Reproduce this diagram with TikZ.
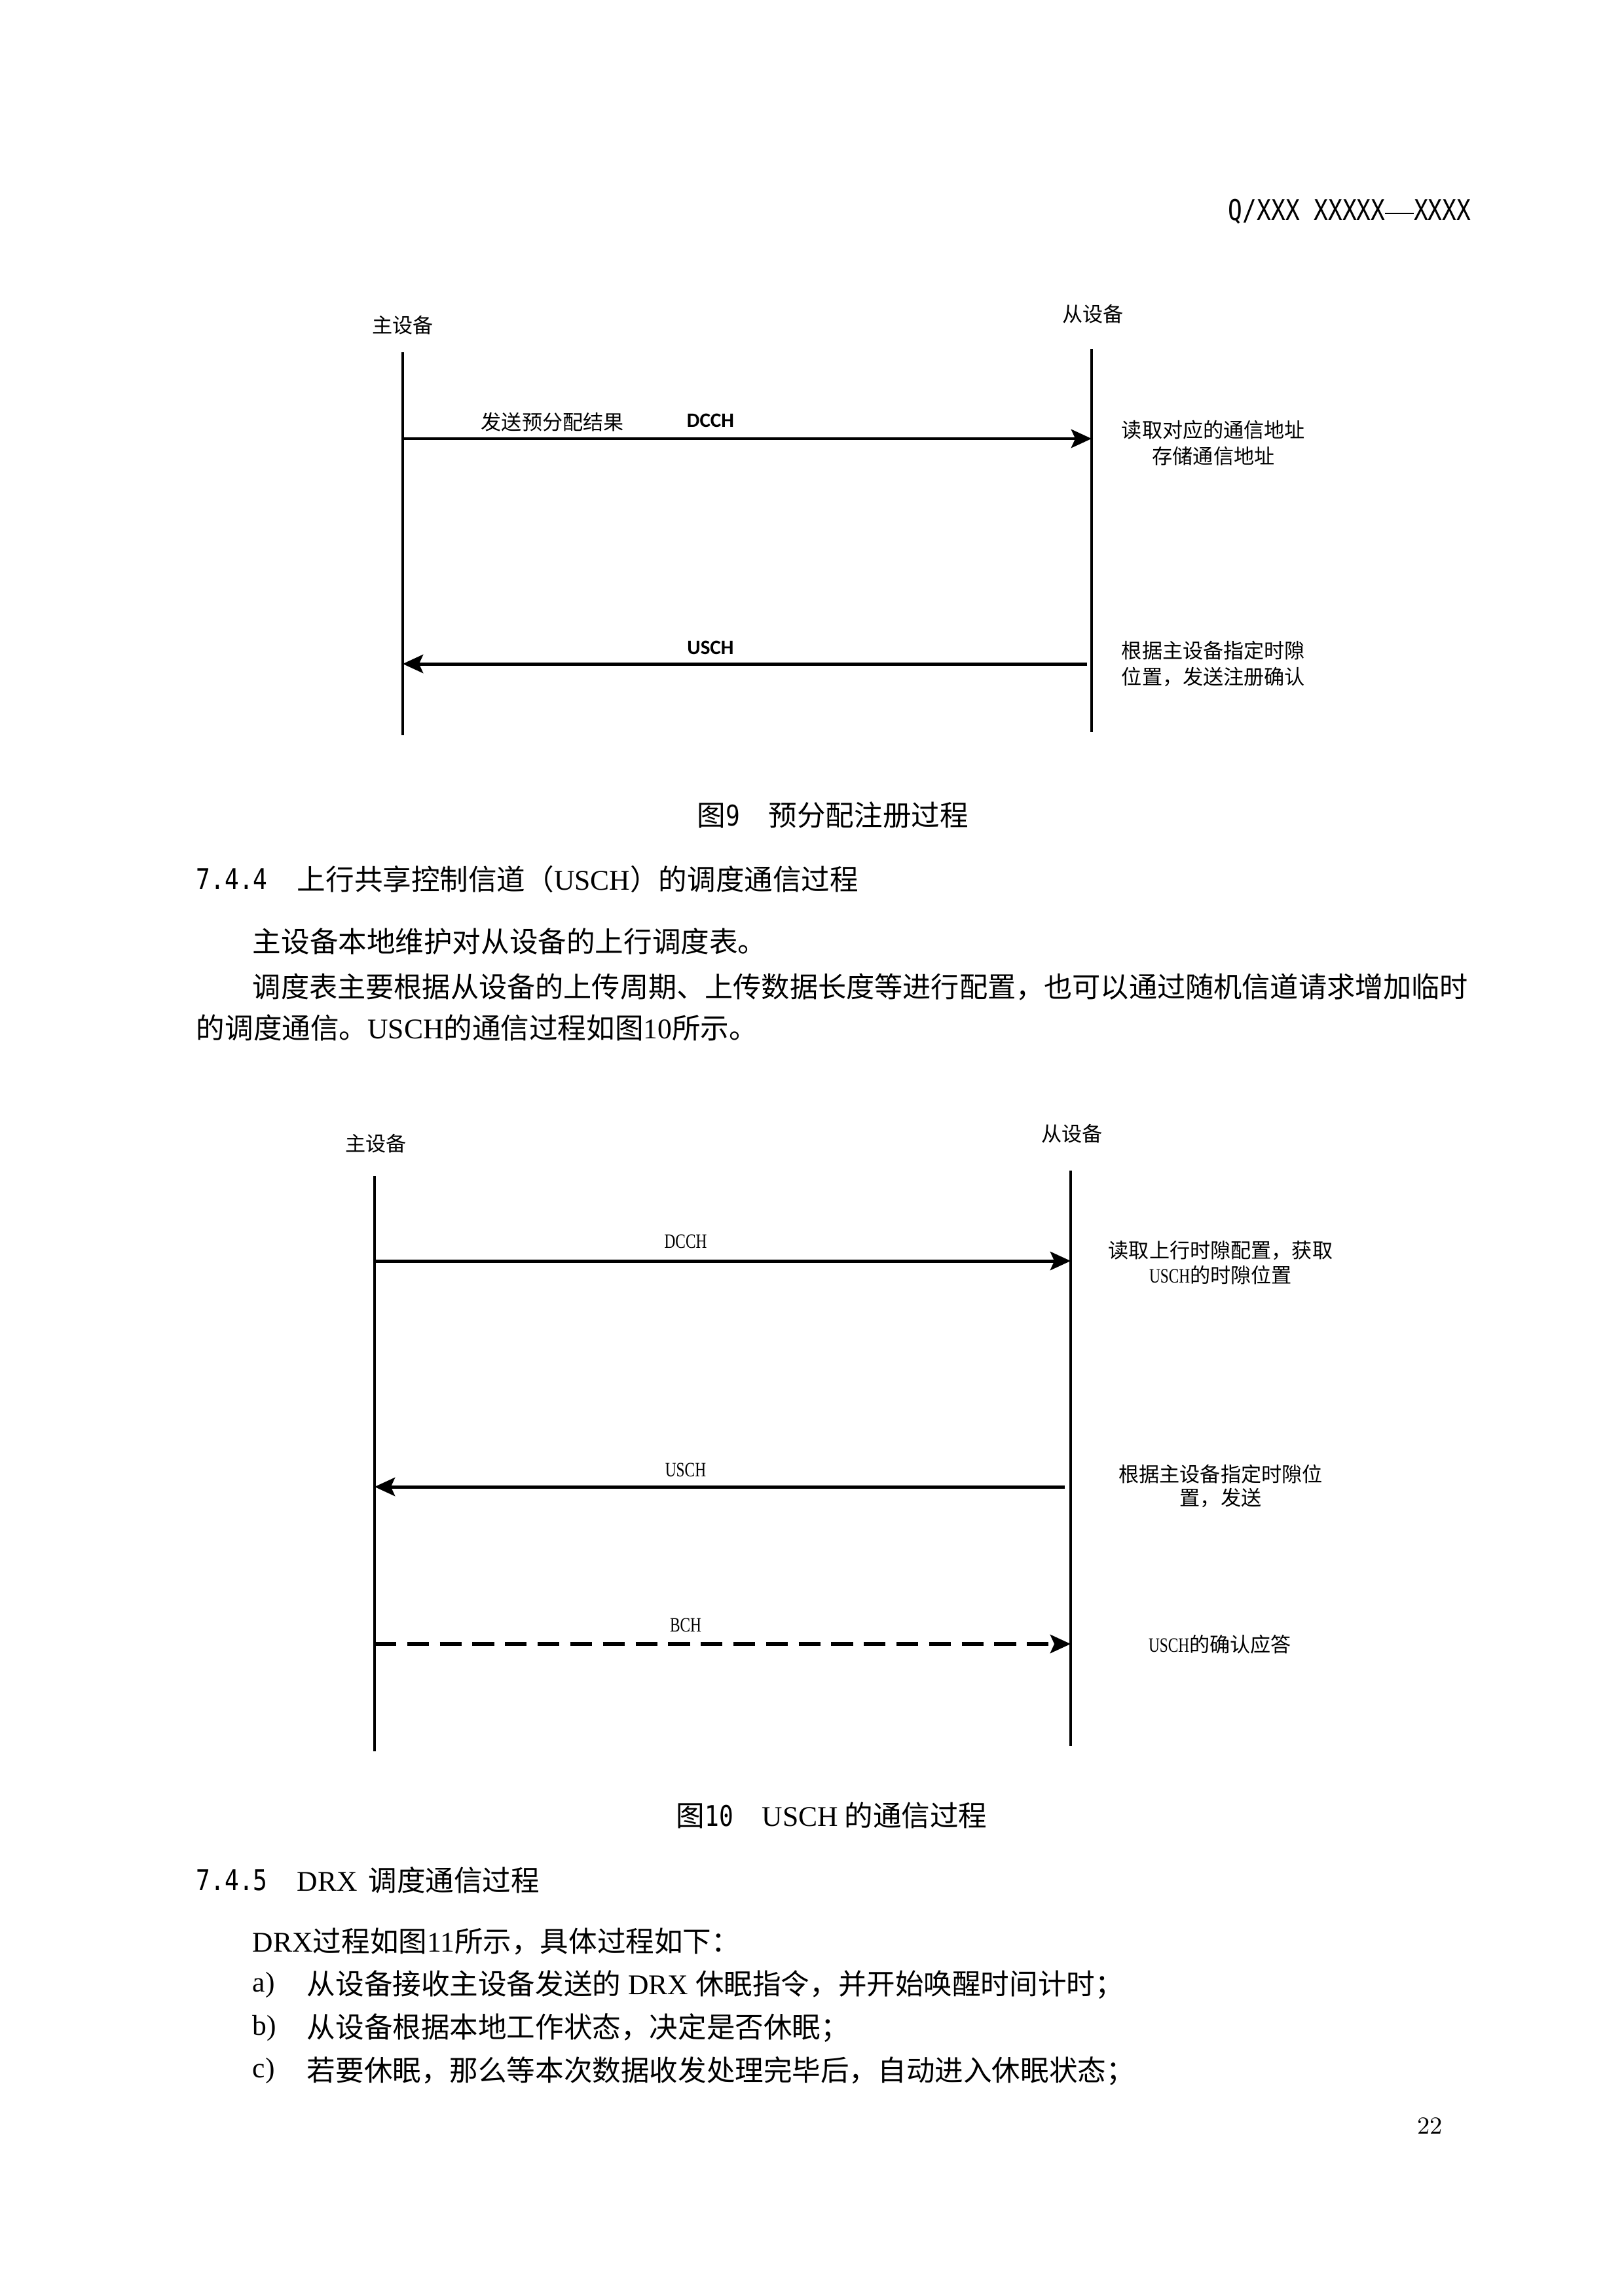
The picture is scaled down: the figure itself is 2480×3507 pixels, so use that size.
\documentclass[tikz,border=0pt]{standalone}
\usepackage{fontspec}
\newfontfamily\cjk{Noto Sans CJK SC}
\newfontfamily\tnr{Liberation Serif}
\newfontfamily\heimono[FakeStretch=0.83]{DejaVu Sans Mono}
\newfontfamily\narrowserif[FakeStretch=0.75]{Liberation Serif}
\newfontfamily\cali{Carlito}
\usetikzlibrary{arrows.meta}
\tikzset{
  lifeline/.style={line width=1pt},
  msg/.style={line width=1.2pt,-{Stealth[length=7.5pt,width=6.8pt,inset=1.5pt]}},
  dmsg/.style={msg,line width=1.3pt,dash pattern=on 8pt off 4pt},
  figtxt/.style={inner sep=0pt,font=\fontsize{7.5}{9.6}\selectfont\cjk},
  chan9/.style={inner sep=0pt,font=\fontsize{7.5}{9}\selectfont\cali\bfseries},
  chan10/.style={inner sep=0pt,font=\fontsize{7.5}{9}\selectfont\narrowserif},
  bodytxt/.style={inner sep=0pt,anchor=west,font=\fontsize{10.5}{13}\selectfont\cjk},
  captxt/.style={inner sep=0pt,anchor=west,font=\fontsize{10.5}{13}\selectfont\cjk}
}
\begin{document}
\begin{tikzpicture}[x=0.0846774mm,y=-0.0846774mm]
\useasboundingbox (0,0) rectangle (2480,3507);

% header
\node[inner sep=0pt,anchor=east,font=\fontsize{10.5}{13}\selectfont\heimono] (hdr) at (2247,323)
  {Q/XXX XXXXX\rule[0.22em]{10.5pt}{0.4pt}XXXX};

% ---------- Figure 9 ----------
\coordinate (m9top) at (615,538);
\coordinate (m9bot) at (615,1123);
\coordinate (s9top) at (1667,533);
\coordinate (s9bot) at (1667,1118);
\draw[lifeline] (m9top) -- (m9bot);
\draw[lifeline] (s9top) -- (s9bot);
\node[figtxt] (m9name) at (615,497) {主设备};
\node[figtxt] (s9name) at (1669,480) {从设备};

\coordinate (m9a) at (615,670);
\coordinate (s9a) at (1667,670);
\draw[msg] (m9a) -- (s9a);
\node[figtxt,anchor=west] (send9) at (734,645) {发送预分配结果};
\node[chan9] (dcch9) at (1085,642) {DCCH};
\node[figtxt,align=center] (note9a) at (1853,677) {读取对应的通信地址\\存储通信地址};

\coordinate (m9b) at (615,1014);
\coordinate (s9b) at (1660,1014);
\draw[msg] (s9b) -- (m9b);
\node[chan9] (usch9) at (1085,989) {USCH};
\node[figtxt,align=center] (note9b) at (1853,1014) {根据主设备指定时隙\\位置，发送注册确认};

\node[captxt] (cap9) at (1064,1245) {图{\heimono 9}\hspace{10.5pt}预分配注册过程};

% ---------- Section 7.4.4 ----------
\node[captxt] (h744n) at (299,1343) {\heimono 7.4.4};
\node[captxt] (h744) at (453,1343) {上行共享控制信道（{\tnr USCH}）的调度通信过程};
\node[bodytxt] (p1) at (385,1438) {主设备本地维护对从设备的上行调度表。};
\node[bodytxt,font=\fontsize{10.4}{13}\selectfont\cjk] (p2) at (385,1508) {调度表主要根据从设备的上传周期、上传数据长度等进行配置，也可以通过随机信道请求增加临时};
\node[bodytxt] (p3) at (299,1570) {的调度通信。{\tnr USCH}的通信过程如图{\tnr 10}所示。};

% ---------- Figure 10 ----------
\coordinate (m10top) at (572,1796);
\coordinate (m10bot) at (572,2675);
\coordinate (s10top) at (1635,1788);
\coordinate (s10bot) at (1635,2667);
\draw[lifeline] (m10top) -- (m10bot);
\draw[lifeline] (s10top) -- (s10bot);
\node[figtxt] (m10name) at (574,1747) {主设备};
\node[figtxt] (s10name) at (1637,1732) {从设备};

\coordinate (m10a) at (572,1926);
\coordinate (s10a) at (1635,1926);
\draw[msg] (m10a) -- (s10a);
\node[chan10] (dcch10) at (1047,1896) {DCCH};
\node[figtxt,align=center,font=\fontsize{7.5}{9.2}\selectfont\cjk] (note10a) at (1864,1929) {读取上行时隙配置，获取\\{\narrowserif USCH}的时隙位置};

\coordinate (m10b) at (572,2271);
\coordinate (s10b) at (1626,2271);
\draw[msg] (s10b) -- (m10b);
\node[chan10] (usch10) at (1047,2245) {USCH};
\node[figtxt,align=center,font=\fontsize{7.5}{8.7}\selectfont\cjk] (note10b) at (1864,2270) {根据主设备指定时隙位\\置，发送};

\coordinate (m10c) at (572,2511);
\coordinate (s10c) at (1635,2511);
\draw[dmsg] (m10c) -- (s10c);
\node[chan10] (bch10) at (1047,2482) {BCH};
\node[figtxt] (note10c) at (1863,2512) {{\narrowserif USCH}的确认应答};

\node[captxt] (cap10) at (1032,2773) {图{\heimono 10}\hspace{10.5pt}{\tnr USCH} 的通信过程};

% ---------- Section 7.4.5 ----------
\node[captxt] (h745n) at (299,2872) {\heimono 7.4.5};
\node[captxt] (h745) at (453,2872) {{\tnr DRX}\hspace{4pt}调度通信过程};
\node[bodytxt] (q0) at (385,2966) {{\tnr DRX}过程如图{\tnr 11}所示，具体过程如下：};
\node[bodytxt,font=\fontsize{10.5}{13}\selectfont\tnr] (qa) at (385,3032) {a)};
\node[bodytxt] (qat) at (468,3032) {从设备接收主设备发送的{\tnr\ DRX\ }休眠指令，并开始唤醒时间计时；};
\node[bodytxt,font=\fontsize{10.5}{13}\selectfont\tnr] (qb) at (385,3098) {b)};
\node[bodytxt] (qbt) at (468,3098) {从设备根据本地工作状态，决定是否休眠；};
\node[bodytxt,font=\fontsize{10.5}{13}\selectfont\tnr] (qc) at (385,3163) {c)};
\node[bodytxt] (qct) at (468,3163) {若要休眠，那么等本次数据收发处理完毕后，自动进入休眠状态；};

% page number
\node[inner sep=0pt,anchor=east,font=\fontsize{9}{11}\selectfont] (pg) at (2204,3247) {22};
\end{tikzpicture}
\end{document}
